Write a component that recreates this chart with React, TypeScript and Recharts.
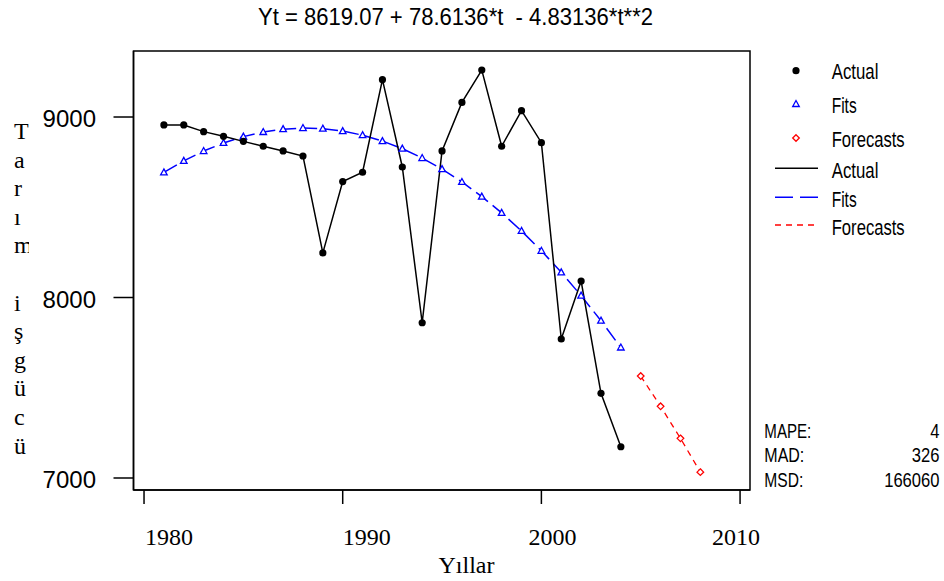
import { LineChart, Line, XAxis, YAxis, ReferenceArea, Legend } from "recharts";

const years = [
  1981, 1982, 1983, 1984, 1985, 1986, 1987, 1988, 1989, 1990, 1991, 1992,
  1993, 1994, 1995, 1996, 1997, 1998, 1999, 2000, 2001, 2002, 2003, 2004,
];
const actual = [
  8956, 8956, 8919, 8893, 8865, 8838, 8812, 8784, 8247, 8642, 8694, 9207,
  8723, 7860, 8812, 9081, 9260, 8838, 9035, 8858, 7770, 8091, 7469, 7173,
];
const fits = [
  8692.85, 8756.97, 8811.43, 8856.22, 8891.36, 8916.82, 8932.63, 8938.77,
  8935.25, 8922.07, 8899.23, 8866.71, 8824.55, 8772.71, 8711.21, 8640.06,
  8559.24, 8468.75, 8368.61, 8258.8, 8139.33, 8010.19, 7871.39, 7722.94,
];
const forecastYears = [2005, 2006, 2007, 2008];
const forecasts = [7564.78, 7397.02, 7219.58, 7032.5];

const xTicks = [1980, 1990, 2000, 2010];
const yTicks = [7000, 8000, 9000];
const yLabelLetters = ["T", "a", "r", "ı", "m", " ", "i", "ş", "g", "ü", "c", "ü"];
const statNames = ["MAPE:", "MAD:", "MSD:"];
const statValues = ["4", "326", "166060"];

const fitData = years.map((year, i) => ({ year, actual: actual[i], fit: fits[i] }));
const forecastData = forecastYears.map((year, i) => ({ year, forecast: forecasts[i] }));

const SANS = "'Liberation Sans', Arial, sans-serif";
const SERIF = "'Liberation Serif', 'Times New Roman', serif";
const BLUE = "#0000ff";
const RED = "#ff0000";

// minitab places the x labels a bit off their ticks
const xLabelShift: Record<number, number> = { 1980: 25, 1990: 24, 2000: 11, 2010: -4 };
// squeezed widths of the stats names
const nameWidth: Record<string, number> = { "MAPE:": 47, "MAD:": 40, "MSD:": 39 };

const XTick = ({ x, y, payload }: any) => (
  <text x={x + (xLabelShift[payload.value] ?? 0)} y={y + 39} textAnchor="middle" fontFamily={SERIF} fontSize={24} fill="#000">
    {payload.value}
  </text>
);

const YTick = ({ x, y, payload }: any) => (
  <text x={x} y={y + 10} textAnchor="end" fontFamily={SANS} fontSize={24} fill="#000">
    {payload.value}
  </text>
);

const Dot = ({ cx, cy, index }: any) => <circle key={`a-${index}`} cx={cx} cy={cy} r={3.6} fill="#000" />;

const Tri = ({ cx, cy, index }: any) => (
  <polygon
    key={`f-${index}`}
    points={`${cx},${cy - 3.5} ${cx - 3.3},${cy + 2.5} ${cx + 3.3},${cy + 2.5}`}
    fill="#fff"
    stroke={BLUE}
    strokeWidth={1.3}
  />
);

const Diamond = ({ cx, cy, index }: any) => (
  <polygon
    key={`d-${index}`}
    points={`${cx},${cy - 3.3} ${cx + 3.3},${cy} ${cx},${cy + 3.3} ${cx - 3.3},${cy}`}
    fill="#fff"
    stroke={RED}
    strokeWidth={1.3}
  />
);

function LegendBox() {
  const txt = { fontFamily: SANS, fontSize: 22, fill: "#000", lengthAdjust: "spacingAndGlyphs" as const };
  return (
    <svg width={184} height={200}>
      <Dot cx={36} cy={20.7} index={0} />
      <text x={71.7} y={29.3} textLength={46.7} {...txt}>Actual</text>
      <Tri cx={36} cy={54} index={0} />
      <text x={71.7} y={63.3} textLength={25} {...txt}>Fits</text>
      <Diamond cx={36} cy={88} index={0} />
      <text x={71.7} y={96.7} textLength={73} {...txt}>Forecasts</text>
      <line x1={15} x2={58} y1={118.3} y2={118.3} stroke="#000" strokeWidth={1.5} />
      <text x={71.7} y={128.3} textLength={46.7} {...txt}>Actual</text>
      <line x1={15} x2={58} y1={147.3} y2={147.3} stroke={BLUE} strokeWidth={1.5} strokeDasharray="18 7" />
      <text x={71.7} y={156.7} textLength={25} {...txt}>Fits</text>
      <line x1={15} x2={58} y1={175} y2={175} stroke={RED} strokeWidth={1.3} strokeDasharray="6 5" />
      <text x={71.7} y={185} textLength={73} {...txt}>Forecasts</text>
    </svg>
  );
}

export default function App() {
  return (
    <div style={{ position: "absolute", left: 0, top: 0, width: 944, height: 581, background: "#fff" }}>
      <LineChart width={944} height={581} margin={{ top: 51, right: 194, bottom: 0, left: 0 }}>
        <XAxis
          dataKey="year"
          type="number"
          domain={[1979.47, 2010.5]}
          ticks={xTicks}
          allowDataOverflow
          height={91}
          tickSize={14}
          tick={<XTick />}
          axisLine={{ stroke: "#000", strokeWidth: 1.5 }}
          tickLine={{ stroke: "#000", strokeWidth: 1.5 }}
        />
        <YAxis
          type="number"
          domain={[6933.5, 9365.7]}
          ticks={yTicks}
          allowDataOverflow
          width={133.5}
          tickSize={20}
          tickMargin={17.5}
          tick={<YTick />}
          axisLine={{ stroke: "#000", strokeWidth: 1.5 }}
          tickLine={{ stroke: "#000", strokeWidth: 1.5 }}
        />
        <ReferenceArea x1={1979.47} x2={2010.5} y1={6933.5} y2={9365.7} fill="none" stroke="#000" strokeWidth={1.5} />
        <Line
          data={fitData}
          dataKey="fit"
          stroke={BLUE}
          strokeWidth={1.5}
          strokeDasharray="15 6"
          dot={<Tri />}
          isAnimationActive={false}
        />
        <Line
          data={forecastData}
          dataKey="forecast"
          stroke={RED}
          strokeWidth={1.3}
          strokeDasharray="6 5"
          dot={<Diamond />}
          isAnimationActive={false}
        />
        <Line
          data={fitData}
          dataKey="actual"
          stroke="#000"
          strokeWidth={1.5}
          dot={<Dot />}
          isAnimationActive={false}
        />
        <Legend
          layout="horizontal"
          verticalAlign="middle"
          align="center"
          wrapperStyle={{ left: 760, top: 50, width: 184, height: 200 }}
          content={() => <LegendBox />}
        />
      </LineChart>
      <svg width={944} height={581} style={{ position: "absolute", left: 0, top: 0, pointerEvents: "none" }}>
        <text
          x={258}
          y={25}
          textLength={395}
          lengthAdjust="spacingAndGlyphs"
          fontFamily={SANS}
          fontSize={24}
          fill="#000"
          style={{ whiteSpace: "pre" }}
        >
          {"Yt = 8619.07 + 78.6136*t  - 4.83136*t**2"}
        </text>
        <defs>
          <clipPath id="ylab">
            <rect x={0} y={0} width={29} height={581} />
          </clipPath>
        </defs>
        <g clipPath="url(#ylab)">
          {yLabelLetters.map((ch, i) => (
            <text key={i} x={14} y={139 + i * 28.6} fontFamily={SERIF} fontSize={24} fill="#000">
              {ch}
            </text>
          ))}
        </g>
        <text x={466.5} y={573} textAnchor="middle" fontFamily={SERIF} fontSize={24} fill="#000">
          Yıllar
        </text>
        {statNames.map((name, i) => (
          <g key={name}>
            <text
              x={764.3}
              y={437.7 + i * 24.5}
              textLength={nameWidth[name]}
              lengthAdjust="spacingAndGlyphs"
              fontFamily={SANS}
              fontSize={20}
              fill="#000"
            >
              {name}
            </text>
            <text
              transform={`translate(939.5 ${437.7 + i * 24.5}) scale(0.83 1)`}
              textAnchor="end"
              fontFamily={SANS}
              fontSize={20}
              fill="#000"
            >
              {statValues[i]}
            </text>
          </g>
        ))}
      </svg>
    </div>
  );
}
